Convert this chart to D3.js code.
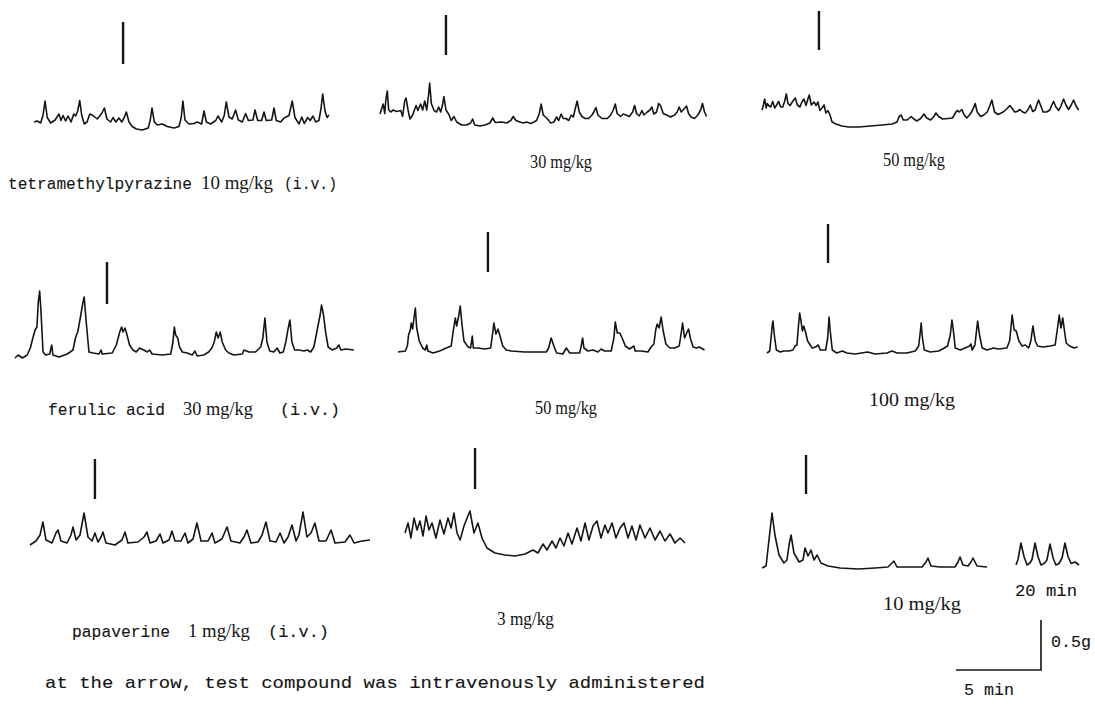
<!DOCTYPE html>
<html>
<head>
<meta charset="utf-8">
<script src="https://cdn.jsdelivr.net/npm/d3@7"></script>
<style>
body { margin: 0; background: #fff; }
svg { display: block; }
.mono { font-family: 'Liberation Mono', 'DejaVu Sans Mono', monospace; fill: #151515; stroke: #151515; stroke-width: 0.12px; }
.serif { font-family: 'Liberation Serif', 'DejaVu Serif', serif; fill: #151515; }
</style>
</head>
<body>
<svg id="chart"></svg>
<script>
// tension traces, [time (min), tension (g)]
var tmp10 = [[0,0],[0.19,0.01],[0.39,-0.01],[0.53,0.065],[0.65,0.21],[0.78,0.045],[0.98,-0.01],[1.24,0.02],[1.47,0.08],[1.59,0.015],[1.71,0.065],[1.86,0.01],[2.0,0.06],[2.18,0],[2.34,0.08],[2.45,0.06],[2.57,0.11],[2.69,0.215],[2.81,0.065],[2.96,-0.02],[3.12,0],[3.28,0.08],[3.47,0.065],[3.72,0.03],[3.98,0.085],[4.14,0.14],[4.29,0.03],[4.51,0],[4.65,0.045],[4.81,0],[5.0,0.04],[5.16,0],[5.31,0.045],[5.43,0.10],[5.59,0],[5.78,-0.045],[6.02,-0.07],[6.37,-0.08],[6.72,-0.06],[6.84,0.02],[6.94,0.14],[7.08,0],[7.25,-0.03],[7.55,-0.02],[7.84,-0.045],[8.24,-0.06],[8.53,-0.045],[8.66,0.045],[8.76,0.21],[8.88,0.02],[9.12,-0.02],[9.41,-0.015],[9.61,0],[9.86,-0.02],[10.0,0.11],[10.14,0],[10.39,-0.02],[10.69,0.015],[10.82,0.06],[11.04,0],[11.19,0.065],[11.31,0.20],[11.47,0.05],[11.66,0.03],[11.86,0.12],[12.02,0.02],[12.25,0],[12.45,0.085],[12.61,0.015],[12.88,0.02],[13.0,0.12],[13.16,0.015],[13.39,0.015],[13.53,0.10],[13.66,0.015],[13.98,0.02],[14.12,0.14],[14.25,0.015],[14.51,0],[14.71,0.04],[15.0,0.065],[15.19,0.21],[15.35,0.045],[15.59,-0.02],[15.75,0.05],[15.9,-0.015],[16.1,0.045],[16.25,0.015],[16.41,0.06],[16.57,0],[16.76,0.015],[16.88,0.13],[16.98,0.28],[17.12,0.11],[17.24,0.045],[17.35,0.07]]
var tmp30 = [[0,-0.02],[0.12,0.045],[0.19,0.08],[0.28,-0.015],[0.35,0.13],[0.43,0.21],[0.51,0.02],[0.63,0],[0.78,0.02],[0.98,0.005],[1.22,0.015],[1.33,-0.045],[1.45,0.11],[1.53,0.14],[1.65,0.02],[1.76,-0.07],[1.92,-0.03],[2.12,0.065],[2.23,0.015],[2.39,0.08],[2.51,0.02],[2.63,0.11],[2.75,0.02],[2.86,0.175],[2.92,0.29],[3.02,0.085],[3.18,0.015],[3.33,0],[3.45,0.05],[3.57,0],[3.69,0.08],[3.76,0.155],[3.88,0.02],[4.04,-0.02],[4.19,-0.085],[4.35,-0.045],[4.51,-0.10],[4.8,-0.13],[5.1,-0.13],[5.33,-0.11],[5.45,-0.07],[5.57,-0.13],[5.88,-0.14],[6.17,-0.13],[6.47,-0.11],[6.63,-0.06],[6.78,-0.105],[7.16,-0.10],[7.45,-0.11],[7.69,-0.085],[7.84,-0.045],[8.0,-0.085],[8.23,-0.10],[8.43,-0.11],[8.63,-0.10],[8.86,-0.115],[9.06,-0.10],[9.21,-0.085],[9.37,-0.015],[9.48,0.08],[9.6,-0.03],[9.8,-0.06],[10.04,-0.11],[10.23,-0.10],[10.39,-0.05],[10.51,-0.085],[10.66,-0.02],[10.78,-0.065],[10.94,-0.065],[11.1,-0.085],[11.25,-0.03],[11.37,-0.05],[11.48,0.03],[11.6,0.11],[11.72,0],[11.88,-0.045],[12.07,-0.065],[12.27,-0.065],[12.47,-0.03],[12.58,0],[12.7,0.045],[12.82,-0.03],[13.05,-0.065],[13.37,-0.065],[13.57,-0.03],[13.72,0.02],[13.84,0.08],[13.95,-0.015],[14.15,-0.045],[14.31,-0.02],[14.47,-0.03],[14.66,-0.045],[14.86,0],[14.98,0.065],[15.09,-0.015],[15.25,-0.04],[15.41,0.015],[15.52,-0.03],[15.72,0],[15.88,0.02],[15.99,0.05],[16.11,-0.02],[16.27,0],[16.39,0.085],[16.5,0.065],[16.66,-0.015],[16.86,-0.03],[17.09,-0.05],[17.33,-0.03],[17.48,0],[17.6,0.05],[17.72,0],[17.88,0.03],[18.03,0.06],[18.15,-0.015],[18.3,-0.05],[18.5,-0.065],[18.7,-0.03],[18.86,0.02],[18.97,0.085],[19.09,0],[19.21,-0.045]]
var tmp50 = [[0,0],[0.08,0.05],[0.16,0.11],[0.24,0.02],[0.31,0.065],[0.39,0.045],[0.51,0.03],[0.63,0.085],[0.75,0.02],[0.86,0.05],[0.98,0.085],[1.1,0.03],[1.22,0.03],[1.33,0.085],[1.43,0.16],[1.53,0.065],[1.65,0.045],[1.8,0.085],[1.96,0.12],[2.08,0.05],[2.23,0.03],[2.35,0.08],[2.47,0.11],[2.59,0.045],[2.7,0.11],[2.78,0.15],[2.9,0.05],[3.06,0.08],[3.18,0.045],[3.29,0.08],[3.41,-0.005],[3.53,0.02],[3.65,0.05],[3.76,-0.03],[3.88,-0.005],[4.0,-0.05],[4.12,-0.12],[4.35,-0.14],[4.7,-0.16],[5.1,-0.17],[5.69,-0.17],[6.37,-0.16],[7.06,-0.15],[7.65,-0.14],[7.94,-0.12],[8.07,-0.065],[8.19,-0.05],[8.31,-0.10],[8.54,-0.10],[8.78,-0.065],[8.9,-0.085],[9.1,-0.11],[9.33,-0.085],[9.53,-0.04],[9.68,-0.08],[9.92,-0.10],[10.11,-0.065],[10.23,-0.03],[10.39,-0.065],[10.62,-0.09],[10.94,-0.085],[11.21,-0.08],[11.37,-0.03],[11.48,-0.005],[11.6,-0.02],[11.76,0.005],[11.88,-0.045],[12.04,-0.08],[12.23,-0.045],[12.39,0],[12.54,0.065],[12.66,-0.02],[12.86,-0.065],[13.05,-0.05],[13.25,-0.02],[13.41,0.045],[13.52,0.10],[13.68,-0.02],[13.88,-0.045],[14.07,-0.03],[14.23,-0.015],[14.42,0.015],[14.58,0.045],[14.7,0.02],[14.86,-0.02],[15.01,-0.015],[15.17,0.005],[15.33,-0.02],[15.48,-0.03],[15.64,0],[15.78,0.05],[15.92,-0.015],[16.07,0],[16.19,0.065],[16.27,0.10],[16.39,0.045],[16.54,-0.02],[16.74,-0.02],[16.93,0],[17.05,0.05],[17.15,0.085],[17.29,0.03],[17.45,-0.005],[17.6,0.045],[17.74,0.11],[17.88,0.05],[18.03,0.005],[18.19,0.05],[18.33,0.10],[18.46,0.045],[18.62,0]]
var fer30 = [[0,-0.03],[0.19,0],[0.43,-0.03],[0.72,0],[0.9,0.07],[1.02,0.15],[1.18,0.25],[1.29,0.28],[1.37,0.53],[1.45,0.64],[1.53,0.43],[1.65,0.03],[1.8,0],[2.04,0.01],[2.16,0.10],[2.23,0],[2.59,-0.02],[3.08,0.01],[3.41,0.05],[3.57,0.18],[3.69,0.23],[3.84,0.37],[4.0,0.53],[4.07,0.58],[4.19,0.33],[4.35,0.03],[4.59,0.02],[4.94,0.01],[5.06,0.05],[5.13,0.01],[5.72,0.02],[5.96,0.10],[6.16,0.23],[6.27,0.28],[6.35,0.23],[6.47,0.27],[6.59,0.20],[6.74,0.10],[6.94,0.05],[7.13,0.03],[7.33,0.07],[7.57,0.05],[7.78,0.03],[7.92,0.05],[8.07,0.01],[8.66,0],[9.16,0.01],[9.29,0.13],[9.37,0.28],[9.45,0.20],[9.57,0.17],[9.68,0.08],[9.84,0.03],[10.13,0.02],[10.43,0],[10.58,0.04],[10.72,-0.01],[11.1,0],[11.39,0.03],[11.58,0.07],[11.72,0.13],[11.84,0.23],[11.95,0.17],[12.07,0.23],[12.19,0.13],[12.39,0.05],[12.58,0.02],[12.88,0],[13.37,0.01],[13.47,0.05],[13.76,0.03],[14.15,0.03],[14.45,0.08],[14.58,0.17],[14.7,0.37],[14.82,0.13],[14.98,0.04],[15.23,0.03],[15.42,0.07],[15.58,0.02],[15.78,0.03],[15.93,0.13],[16.05,0.25],[16.17,0.35],[16.29,0.13],[16.45,0.05],[16.72,0.05],[16.99,0.04],[17.19,0.05],[17.39,0.03],[17.58,0.08],[17.72,0.20],[17.83,0.30],[17.95,0.40],[18.03,0.50],[18.15,0.40],[18.27,0.23],[18.42,0.08],[18.66,0.05],[18.93,0.07],[19.05,0.10],[19.17,0.05],[19.45,0.06],[19.93,0.05]]
var fer50 = [[0,-0.01],[0.43,0],[0.55,0.05],[0.63,0.17],[0.71,0.20],[0.78,0.28],[0.86,0.22],[0.94,0.33],[1.02,0.43],[1.1,0.23],[1.25,0.10],[1.45,0.03],[1.61,0.01],[1.69,0.06],[1.76,0],[2.06,-0.02],[2.45,0],[2.84,0.03],[3.13,0.05],[3.25,0.20],[3.37,0.33],[3.45,0.25],[3.57,0.35],[3.66,0.45],[3.76,0.27],[3.88,0.10],[4.12,0.04],[4.27,0.03],[4.37,0.15],[4.43,0.03],[4.7,0.03],[5.1,0.02],[5.45,0.03],[5.57,0.18],[5.64,0.28],[5.76,0.17],[5.88,0.22],[6.0,0.15],[6.16,0.05],[6.37,0.01],[6.66,0],[7.45,-0.01],[8.72,-0.01],[8.86,0.03],[9.01,0.13],[9.17,0.05],[9.33,-0.02],[9.7,-0.03],[9.9,0.03],[10.1,-0.02],[10.68,-0.02],[10.78,0.05],[10.86,0.13],[10.94,0.03],[11.17,0],[11.47,0.01],[11.76,-0.01],[11.95,0.02],[12.15,0],[12.54,0],[12.7,0.13],[12.78,0.29],[12.9,0.18],[13.05,0.18],[13.21,0.12],[13.37,0.05],[13.62,0.02],[13.88,0.05],[13.95,0],[14.31,0],[14.7,-0.01],[14.89,0.04],[15.05,0.07],[15.17,0.22],[15.25,0.27],[15.36,0.23],[15.48,0.34],[15.6,0.20],[15.76,0.07],[15.99,0.03],[16.27,0.03],[16.54,0.05],[16.66,0.18],[16.74,0.28],[16.86,0.13],[16.98,0.18],[17.09,0.22],[17.21,0.12],[17.36,0.04],[17.56,0.03],[17.72,0.04],[18.03,0.01]]
var fer100 = [[0,-0.01],[0.16,0.01],[0.24,0.14],[0.31,0.27],[0.35,0.31],[0.43,0.17],[0.55,0.02],[0.78,0],[0.98,0.01],[1.28,0.01],[1.53,0.02],[1.65,0.06],[1.76,0.07],[1.84,0.24],[1.92,0.39],[2.0,0.31],[2.08,0.21],[2.16,0.26],[2.25,0.21],[2.39,0.11],[2.66,0.04],[2.86,0.05],[3.02,0.07],[3.13,0.02],[3.45,0.02],[3.57,0.14],[3.65,0.35],[3.72,0.21],[3.84,0.02],[4.1,-0.01],[4.43,0.01],[4.69,-0.01],[5.19,-0.02],[5.92,0],[6.35,-0.02],[7.06,-0.01],[7.35,0.01],[7.65,-0.01],[8.23,-0.01],[8.72,0.01],[8.92,0.06],[9.01,0.19],[9.07,0.29],[9.13,0.16],[9.25,0.02],[9.6,0],[10.1,0.01],[10.43,0.04],[10.62,0.06],[10.78,0.17],[10.88,0.32],[10.98,0.19],[11.07,0.04],[11.37,0.02],[11.92,0.06],[12.0,0.08],[12.07,0.02],[12.23,0.07],[12.31,0.19],[12.39,0.31],[12.51,0.16],[12.66,0.04],[12.94,0.02],[13.33,0.04],[13.62,0.03],[14.11,0.04],[14.27,0.11],[14.35,0.24],[14.42,0.37],[14.54,0.22],[14.66,0.21],[14.82,0.11],[15.01,0.06],[15.19,0.07],[15.39,0.04],[15.52,0.11],[15.64,0.26],[15.78,0.11],[15.92,0.06],[16.23,0.05],[16.66,0.06],[16.95,0.07],[17.09,0.24],[17.19,0.37],[17.29,0.24],[17.4,0.34],[17.5,0.21],[17.6,0.09],[17.8,0.06],[18.07,0.04],[18.27,0.05]]
var pap1 = [[0,-0.03],[0.35,0.01],[0.59,0.07],[0.76,0.20],[0.94,0.02],[1.29,-0.01],[1.53,0.09],[1.65,0.12],[1.82,0.01],[2.18,-0.01],[2.41,0.07],[2.53,0.15],[2.71,0.02],[2.94,0.07],[3.18,0.29],[3.41,0.05],[3.65,0.01],[3.82,0.09],[4.0,0],[4.18,0.05],[4.29,0.10],[4.47,-0.01],[5.0,-0.03],[5.41,0.02],[5.59,0.10],[5.76,-0.01],[6.35,0],[6.71,0.05],[6.88,0.10],[7.06,-0.01],[7.41,0.01],[7.65,0.08],[7.82,-0.01],[8.18,0.02],[8.35,0.11],[8.53,0.01],[8.88,0.01],[9.12,0.09],[9.29,-0.01],[9.59,0.03],[9.82,0.19],[10.06,0.01],[10.47,0.01],[10.71,0.09],[10.88,-0.01],[11.29,0.03],[11.59,0.15],[11.82,0.01],[12.35,-0.01],[12.59,0.05],[12.76,0.12],[13.0,-0.01],[13.41,0],[13.65,0.07],[13.88,0.20],[14.12,0.01],[14.47,0],[14.71,0.09],[14.94,-0.01],[15.18,0.05],[15.41,0.17],[15.65,0.01],[15.82,0.07],[16.06,0.30],[16.29,0.05],[16.53,0.09],[16.76,0.19],[17.0,0.01],[17.41,0.01],[17.71,0.12],[17.94,-0.01],[18.53,0],[18.82,0.07],[19.06,-0.01],[19.53,0.01],[20.0,0.02]]
var pap3 = [[0,0.12],[0.18,0.22],[0.35,0.07],[0.53,0.27],[0.71,0.15],[0.88,0.24],[1.06,0.09],[1.24,0.29],[1.41,0.15],[1.59,0.22],[1.82,0.07],[2.06,0.25],[2.29,0.11],[2.53,0.27],[2.71,0.17],[2.88,0.32],[3.06,0.12],[3.24,0.05],[3.47,0.19],[3.65,0.27],[3.82,0.34],[4.06,0.12],[4.29,0.22],[4.53,0.07],[4.82,-0.03],[5.29,-0.08],[5.88,-0.10],[6.47,-0.11],[7.06,-0.09],[7.53,-0.05],[7.82,-0.08],[8.12,0.01],[8.35,-0.05],[8.65,0.04],[8.88,-0.03],[9.12,0.07],[9.35,-0.01],[9.59,0.12],[9.82,0.01],[10.12,0.17],[10.35,0.04],[10.59,0.22],[10.82,0.05],[11.06,0.19],[11.29,0.24],[11.53,0.07],[11.76,0.20],[11.94,0.12],[12.18,0.22],[12.41,0.07],[12.65,0.17],[12.88,0.22],[13.12,0.07],[13.35,0.19],[13.59,0.05],[13.82,0.20],[14.12,0.07],[14.41,0.17],[14.71,0.05],[15.0,0.14],[15.29,0.04],[15.59,0.11],[15.88,0.02],[16.18,0.07],[16.47,0.02]]
var pap10 = [[0,0],[0.24,0.02],[0.41,0.28],[0.59,0.55],[0.76,0.33],[1.0,0.13],[1.29,0.05],[1.47,0.08],[1.59,0.23],[1.71,0.33],[1.88,0.15],[2.18,0.06],[2.41,0.08],[2.53,0.20],[2.71,0.12],[2.88,0.18],[3.06,0.08],[3.24,0.13],[3.47,0.05],[3.88,0.02],[4.59,0],[5.65,-0.01],[6.65,0],[7.41,0.01],[7.65,0.05],[7.76,0.07],[7.94,0.01],[8.71,0.01],[9.41,0.01],[9.65,0.06],[9.76,0.10],[9.94,0.02],[10.47,0.01],[11.35,0.01],[11.53,0.06],[11.65,0.11],[11.82,0.03],[12.12,0.02],[12.29,0.06],[12.41,0.10],[12.65,0.02],[13.24,0.01]]
var pap10Late = [[0,0],[0.12,0.055],[0.29,0.22],[0.47,0.085],[0.65,0],[0.82,0.02],[0.94,0.055],[1.12,0.22],[1.29,0.085],[1.47,0],[1.65,0.015],[1.82,0.05],[2.0,0.21],[2.18,0.07],[2.35,0],[2.53,0.015],[2.71,0.07],[2.88,0.22],[3.06,0.085],[3.24,0.015],[3.47,0.03],[3.71,0]]

// time of i.v. injection on each trace (min from trace start)
var doseTimes = [5.24, 3.88, 3.35, 5.41, 5.29, 3.59, 3.82, 4.12, 2.59]

var drugs = ['tetramethylpyrazine', 'ferulic acid', 'papaverine']
var doses = [[10, 30, 50], [30, 50, 100], [1, 3, 10]]

var scaleBar = { minutes: 5, grams: 0.5 }

var pxPerMin = 17
var pxPerGram = 100
var width = 1095, height = 704
var ink = '#151515'

var svg = d3.select('#chart').attr('width', width).attr('height', height)
svg.append('rect').attr('width', width).attr('height', height).attr('fill', '#fff')

// where each trace sits on the page
var panels = [
    { data: tmp10, x: 34, y: 122, arrow: [22, 64] },
    { data: tmp30, x: 380, y: 112, arrow: [15, 55] },
    { data: tmp50, x: 762, y: 110, arrow: [11, 50] },
    { data: fer30, x: 15, y: 355, arrow: [262, 304] },
    { data: fer50, x: 398, y: 351, arrow: [232, 272] },
    { data: fer100, x: 767, y: 352, arrow: [224, 263] },
    { data: pap1, x: 30, y: 542, arrow: [459, 499] },
    { data: pap3, x: 405, y: 545, arrow: [448, 489] },
    { data: pap10, x: 762, y: 568, arrow: [455, 494] }
]

function makeScales(x0, y0) {
    var x = d3.scaleLinear().domain([0, 5]).range([x0, x0 + 5 * pxPerMin])
    var y = d3.scaleLinear().domain([0, 0.5]).range([y0, y0 - 0.5 * pxPerGram])
    return { x: x, y: y }
}

function drawTrace(data, s) {
    var line = d3.line()
        .x(function (d) { return s.x(d[0]) })
        .y(function (d) { return s.y(d[1]) })
    svg.append('path')
        .datum(data)
        .attr('d', line)
        .attr('fill', 'none')
        .attr('stroke', ink)
        .attr('stroke-width', 1.6)
        .attr('stroke-linejoin', 'round')
}

panels.forEach(function (p, i) {
    var s = makeScales(p.x, p.y)
    drawTrace(p.data, s)
    svg.append('line')
        .attr('x1', s.x(doseTimes[i])).attr('x2', s.x(doseTimes[i]))
        .attr('y1', p.arrow[0]).attr('y2', p.arrow[1])
        .attr('stroke', ink)
        .attr('stroke-width', 2.4)
})

// the short piece 20 min later
drawTrace(pap10Late, makeScales(1016, 565))

// labels
function label(cls, txt, x, y, size, len) {
    var t = svg.append('text')
        .attr('class', cls)
        .attr('x', x).attr('y', y)
        .style('font-size', size + 'px')
        .text(txt)
    if (len) t.attr('textLength', len).attr('lengthAdjust', 'spacingAndGlyphs')
    return t
}

// first column: drug name, dose, route
var firstCol = [
    { y: 189, name: [8, 184], dose: [201, 72], iv: [284, 53] },
    { y: 415, name: [48, 117], dose: [183, 70], iv: [280, 60] },
    { y: 637, name: [72, 98], dose: [188, 62], iv: [268, 61] }
]
firstCol.forEach(function (c, r) {
    label('mono', drugs[r], c.name[0], c.y, 17, c.name[1])
    label('serif', doses[r][0] + ' mg/kg', c.dose[0], c.y, 19, c.dose[1])
    label('mono', '(i.v.)', c.iv[0], c.y, 17, c.iv[1])
})

var otherDoses = [
    { r: 0, c: 1, x: 530, y: 168, len: 62 },
    { r: 0, c: 2, x: 883, y: 166, len: 62 },
    { r: 1, c: 1, x: 535, y: 414, len: 62 },
    { r: 1, c: 2, x: 869, y: 406, len: 86 },
    { r: 2, c: 1, x: 497, y: 625, len: 57 },
    { r: 2, c: 2, x: 883, y: 610, len: 78 }
]
otherDoses.forEach(function (d) {
    label('serif', doses[d.r][d.c] + ' mg/kg', d.x, d.y, 19, d.len)
})

label('mono', '20 min', 1015, 596, 17, 62)

// calibration bar
var bx = d3.scaleLinear().domain([0, scaleBar.minutes]).range([1041 - scaleBar.minutes * pxPerMin, 1041])
var by = d3.scaleLinear().domain([0, scaleBar.grams]).range([670, 670 - scaleBar.grams * pxPerGram])
svg.append('path')
    .attr('d', 'M' + bx(0) + ',' + by(0) + 'H' + bx(scaleBar.minutes) + 'V' + by(scaleBar.grams))
    .attr('fill', 'none')
    .attr('stroke', ink)
    .attr('stroke-width', 1.6)
label('mono', scaleBar.grams + 'g', 1051, 647, 17, 40)
label('mono', scaleBar.minutes + ' min', 964, 695, 17, 50)

label('mono', 'at the arrow, test compound was intravenously administered', 45, 688, 17, 660)
</script>
</body>
</html>
